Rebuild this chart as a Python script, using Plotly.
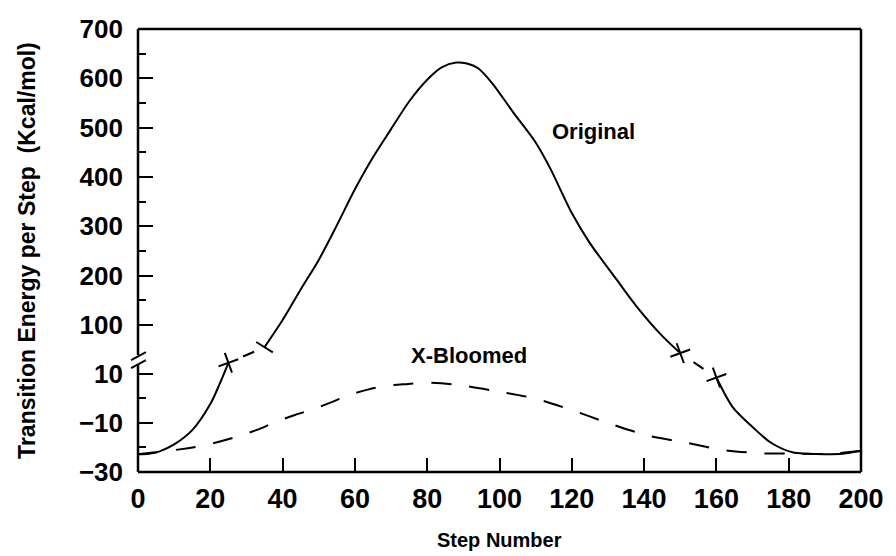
import plotly.graph_objects as go

# ---------------- data ----------------
# Original curve: lower (broken-axis) section, steps 0-25
orig_a_x = [0, 3, 6, 10, 15, 20, 22.5, 25]
orig_a_y = [-22.8, -22.6, -21.6, -18.8, -13.0, -2.4, 5.5, 14.4]
# Original curve: upper section, steps 35-150
orig_b_x = [35, 40, 45, 50, 55, 60, 65, 70, 75, 80, 84, 88, 91, 94, 98, 104, 110,
            114, 120, 125, 132, 138, 145, 150]
orig_b_y = [55, 110, 172, 232, 302, 375, 440, 497, 553, 597, 622, 632, 630, 621, 590,
            529, 470, 418, 327, 266, 196, 137, 78, 43]
# Original curve: lower section, steps 160-200
orig_c_x = [160, 164.5, 170, 175, 181, 185, 190, 195, 200]
orig_c_y = [8.4, -3.6, -11.7, -18.0, -22.0, -22.6, -22.8, -22.6, -21.4]
# X-Bloomed curve
bloom_x = [0, 5, 11.5, 17.4, 22.4, 27.9, 32.9, 37.9, 43.4, 48.4, 53.4, 58.4, 63.8,
           68.9, 74.8, 79.3, 88, 98.9, 109.4, 119.9, 130.3, 140.8, 151.3, 162.2,
           172.7, 182.7, 190, 200]
bloom_y = [-22.8, -22.0, -20.8, -19.4, -17.7, -15.4, -12.9, -9.8, -6.8, -4.5, -1.7,
           1.3, 3.6, 5.1, 5.8, 6.3, 5.5, 2.9, 0.0, -4.8, -10.2, -15.1, -18.0, -21.1,
           -22.4, -22.5, -22.7, -21.4]
# break connectors (end points of the curve sections)
conn1_x = [25, 35]      # from lower section (14.4) to upper section (55)
conn1_y = [14.4, 55]
conn2_x = [150, 160]    # from upper section (43) to lower section (8.4)
conn2_y = [43, 8.4]

x_ticks = [0, 20, 40, 60, 80, 100, 120, 140, 160, 180, 200]
low_ticks = [-30, -10, 10]
low_minor = [-20, 0]
up_ticks = [100, 200, 300, 400, 500, 600, 700]
up_minor = [150, 250, 350, 450, 550, 650]

# ---------------- axis geometry ----------------
LOW = [-30, 16.34]
UP = [33.1, 700]
D = 0.2573          # fraction of plot height used by the lower axis


def low_to_up(v):
    f = D * (v - LOW[0]) / (LOW[1] - LOW[0])
    return UP[0] + (f - D) / (1 - D) * (UP[1] - UP[0])


def up_to_low(u):
    f = D + (1 - D) * (u - UP[0]) / (UP[1] - UP[0])
    return LOW[0] + f / D * (LOW[1] - LOW[0])


FONT = "Liberation Sans, Arial, Helvetica, sans-serif"
BLACK = "#000000"
LW = 2
CONN_DASH = "0px,16px,12px,200px"

fig = go.Figure()

line_solid = dict(color=BLACK, width=LW, shape="spline", smoothing=0.8)

# Original curve sections
fig.add_trace(go.Scatter(x=orig_a_x, y=orig_a_y, mode="lines", line=line_solid,
                         yaxis="y", showlegend=False, hoverinfo="skip"))
fig.add_trace(go.Scatter(x=orig_b_x, y=orig_b_y, mode="lines", line=line_solid,
                         yaxis="y2", showlegend=False, hoverinfo="skip"))
fig.add_trace(go.Scatter(x=orig_c_x, y=orig_c_y, mode="lines", line=line_solid,
                         yaxis="y", showlegend=False, hoverinfo="skip"))

# X-Bloomed
fig.add_trace(go.Scatter(x=bloom_x, y=bloom_y, mode="lines",
                         line=dict(color=BLACK, width=LW, dash="20px,18px",
                                   shape="spline", smoothing=0.8),
                         yaxis="y", showlegend=False, hoverinfo="skip"))

# connectors across the break (drawn on both axes, each clipped to its own domain)
conn_line = dict(color=BLACK, width=LW, dash=CONN_DASH)
fig.add_trace(go.Scatter(x=conn1_x, y=[conn1_y[0], up_to_low(conn1_y[1])], mode="lines",
                         line=conn_line, yaxis="y", showlegend=False, hoverinfo="skip"))
fig.add_trace(go.Scatter(x=conn1_x, y=[low_to_up(conn1_y[0]), conn1_y[1]], mode="lines",
                         line=conn_line, yaxis="y2", showlegend=False, hoverinfo="skip"))
fig.add_trace(go.Scatter(x=conn2_x, y=[conn2_y[0], low_to_up(conn2_y[1])], mode="lines",
                         line=conn_line, yaxis="y2", showlegend=False, hoverinfo="skip"))
fig.add_trace(go.Scatter(x=conn2_x, y=[up_to_low(conn2_y[0]), conn2_y[1]], mode="lines",
                         line=conn_line, yaxis="y", showlegend=False, hoverinfo="skip"))

# break markers
xmark = dict(symbol="cross-thin", size=15, angle=-20, color=BLACK,
             line=dict(width=LW, color=BLACK))
fig.add_trace(go.Scatter(x=[conn1_x[0], conn2_x[1]], y=[conn1_y[0], conn2_y[1]],
                         mode="markers", marker=xmark, yaxis="y", cliponaxis=False,
                         showlegend=False, hoverinfo="skip"))
fig.add_trace(go.Scatter(x=[conn2_x[0]], y=[conn2_y[0]], mode="markers", marker=xmark,
                         yaxis="y2", cliponaxis=False, showlegend=False, hoverinfo="skip"))
fig.add_trace(go.Scatter(x=[conn1_x[1]], y=[conn1_y[1]], mode="markers",
                         marker=dict(symbol="line-ew", size=14, angle=32, color=BLACK,
                                     line=dict(width=LW, color=BLACK)),
                         yaxis="y2", cliponaxis=False, showlegend=False, hoverinfo="skip"))

tickfont_y = dict(family=FONT, size=26, color=BLACK, weight="bold")
tickfont_x = dict(family=FONT, size=27, color=BLACK, weight="bold")

fig.update_layout(
    width=896, height=556, autosize=False,
    margin=dict(l=138, r=26, t=29, b=84, pad=0),
    paper_bgcolor="white", plot_bgcolor="white",
    xaxis=dict(range=[0, 200], tickvals=x_ticks, ticks="inside", ticklen=14,
               tickwidth=LW, tickcolor=BLACK, showgrid=False, zeroline=False,
               showline=False, tickfont=tickfont_x, ticklabelstandoff=8,
               ticklabeloverflow="allow", anchor="y"),
    yaxis=dict(domain=[0, D], range=LOW, tickvals=low_ticks, ticks="inside",
               ticklen=15, tickwidth=LW, tickcolor=BLACK, showgrid=False,
               zeroline=False, showline=False, tickfont=tickfont_y,
               ticklabelstandoff=14, ticklabeloverflow="allow", anchor="x",
               minor=dict(tickvals=low_minor, ticks="inside", ticklen=8,
                          tickwidth=LW, tickcolor=BLACK, showgrid=False)),
    yaxis2=dict(domain=[D, 1], range=UP, tickvals=up_ticks, ticks="inside",
                ticklen=15, tickwidth=LW, tickcolor=BLACK, showgrid=False,
                zeroline=False, showline=False, tickfont=tickfont_y,
                ticklabelstandoff=14, ticklabeloverflow="allow", anchor="x",
                minor=dict(tickvals=up_minor, ticks="inside", ticklen=8,
                           tickwidth=LW, tickcolor=BLACK, showgrid=False)),
)

# frame with axis break (decoration in paper coordinates)
W, H = 732.0, 443.0
frame = dict(color=BLACK, width=2.5)
shapes = [
    dict(type="line", xref="paper", yref="paper", x0=0, x1=1, y0=1, y1=1, line=frame),
    dict(type="line", xref="paper", yref="paper", x0=1, x1=1, y0=0, y1=1, line=frame),
    dict(type="line", xref="paper", yref="paper", x0=0, x1=1, y0=0, y1=0, line=frame),
    dict(type="line", xref="paper", yref="paper", x0=0, x1=0, y0=0, y1=D - 6 / H, line=frame),
    dict(type="line", xref="paper", yref="paper", x0=0, x1=0, y0=D + 3 / H, y1=1, line=frame),
    dict(type="line", xref="paper", yref="paper", x0=-7 / W, x1=8 / W,
         y0=D - 2 / H, y1=D + 6 / H, line=dict(color=BLACK, width=2)),
    dict(type="line", xref="paper", yref="paper", x0=-7 / W, x1=8 / W,
         y0=D - 10 / H, y1=D - 2 / H, line=dict(color=BLACK, width=2)),
]
fig.update_layout(shapes=shapes)

label_font = dict(family=FONT, size=22, color=BLACK, weight="bold")
fig.add_annotation(x=126, y=493, xref="x", yref="y2", text="Original",
                   showarrow=False, font=label_font, xanchor="center", yanchor="middle")
fig.add_annotation(x=91.5, y=39, xref="x", yref="y2", text="X-Bloomed",
                   showarrow=False, font=label_font, xanchor="center", yanchor="middle")
fig.add_annotation(x=0.5, y=-68 / H, xref="paper", yref="paper", text="Step Number",
                   showarrow=False, font=dict(family=FONT, size=20, color=BLACK, weight="bold"),
                   xanchor="center", yanchor="middle")
fig.add_annotation(x=-113 / W, y=0.5, xref="paper", yref="paper",
                   text="Transition Energy per Step  (Kcal/mol)", textangle=-90,
                   showarrow=False, font=dict(family=FONT, size=23, color=BLACK, weight="bold"),
                   xanchor="center", yanchor="middle")

fig.write_html("out.html")
